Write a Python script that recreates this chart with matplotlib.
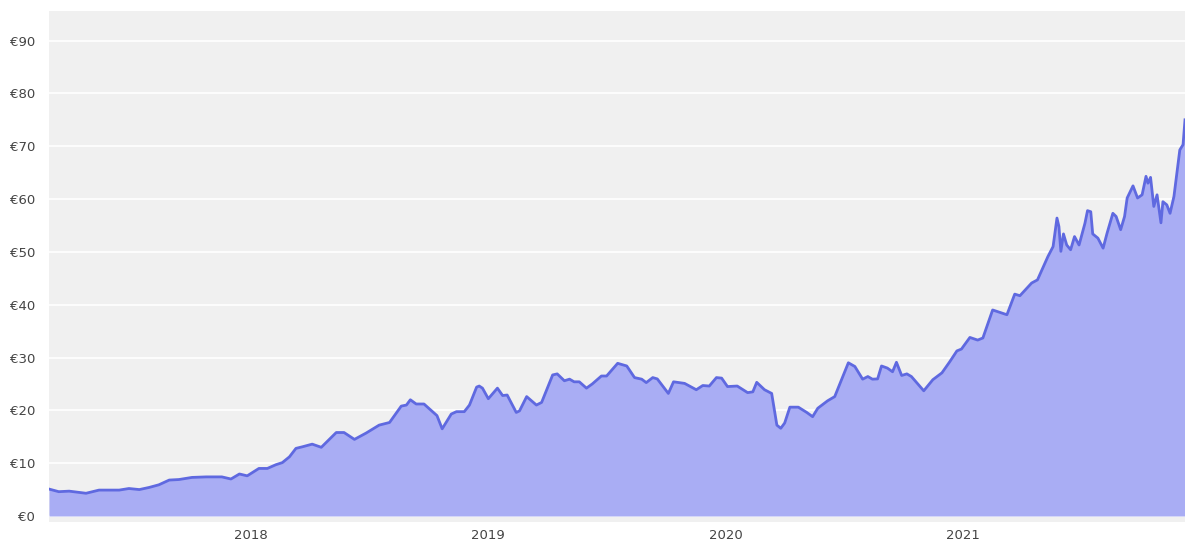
import pandas as pd
import matplotlib
matplotlib.use("Agg")
import matplotlib.pyplot as plt
import matplotlib.dates as mdates
from matplotlib.ticker import FuncFormatter, MultipleLocator

dates = [
    "2017-02-24", "2017-03-11", "2017-03-27", "2017-04-22", "2017-05-12", "2017-06-12",
    "2017-06-27", "2017-07-13", "2017-07-28", "2017-08-12", "2017-08-28", "2017-09-12",
    "2017-10-02", "2017-10-24", "2017-11-17", "2017-12-01", "2017-12-14", "2017-12-26",
    "2018-01-13", "2018-01-26", "2018-02-08", "2018-02-18", "2018-03-01", "2018-03-11",
    "2018-03-21", "2018-04-05", "2018-04-19", "2018-05-12", "2018-05-24", "2018-06-09",
    "2018-06-27", "2018-07-17", "2018-08-02", "2018-08-20", "2018-08-28", "2018-09-03",
    "2018-09-12", "2018-09-24", "2018-10-10", "2018-10-14", "2018-10-22", "2018-11-05",
    "2018-11-13", "2018-11-25", "2018-12-03", "2018-12-14", "2018-12-18", "2018-12-23",
    "2019-01-01", "2019-01-15", "2019-01-23", "2019-01-30", "2019-02-13", "2019-02-18",
    "2019-03-01", "2019-03-16", "2019-03-24", "2019-04-10", "2019-04-17", "2019-04-28",
    "2019-05-06", "2019-05-13", "2019-05-21", "2019-06-01", "2019-06-10", "2019-06-24",
    "2019-07-02", "2019-07-19", "2019-08-02", "2019-08-14", "2019-08-25", "2019-09-01",
    "2019-09-11", "2019-09-18", "2019-10-05", "2019-10-13", "2019-10-30", "2019-11-17",
    "2019-11-27", "2019-12-07", "2019-12-18", "2019-12-26", "2020-01-04", "2020-01-19",
    "2020-02-04", "2020-02-12", "2020-02-18", "2020-03-01", "2020-03-12", "2020-03-20",
    "2020-03-26", "2020-04-01", "2020-04-09", "2020-04-22", "2020-05-05", "2020-05-14",
    "2020-05-22", "2020-06-06", "2020-06-17", "2020-07-08", "2020-07-18", "2020-07-30",
    "2020-08-07", "2020-08-14", "2020-08-22", "2020-08-28", "2020-09-06", "2020-09-14",
    "2020-09-20", "2020-09-28", "2020-10-06", "2020-10-13", "2020-11-01", "2020-11-15",
    "2020-11-29", "2020-12-11", "2020-12-22", "2020-12-29", "2021-01-11", "2021-01-23",
    "2021-01-31", "2021-02-15", "2021-03-09", "2021-03-21", "2021-03-29", "2021-04-16",
    "2021-04-25", "2021-05-03", "2021-05-11", "2021-05-19", "2021-05-25", "2021-05-28",
    "2021-05-31", "2021-06-04", "2021-06-09", "2021-06-15", "2021-06-21", "2021-06-28",
    "2021-07-07", "2021-07-11", "2021-07-16", "2021-07-19", "2021-07-27", "2021-08-04",
    "2021-08-10", "2021-08-19", "2021-08-24", "2021-08-31", "2021-09-06", "2021-09-10",
    "2021-09-19", "2021-09-26", "2021-10-03", "2021-10-09", "2021-10-12", "2021-10-16",
    "2021-10-21", "2021-10-26", "2021-11-01", "2021-11-04", "2021-11-10", "2021-11-15",
    "2021-11-21", "2021-11-30", "2021-12-05", "2021-12-08",
]
prices = [
    5.1, 4.6, 4.7, 4.3, 4.9, 4.9,
    5.2, 5.0, 5.4, 5.9, 6.8, 6.9,
    7.3, 7.4, 7.4, 7.0, 7.95, 7.6,
    9.0, 9.0, 9.7, 10.1, 11.2, 12.8,
    13.1, 13.6, 13.0, 15.8, 15.8, 14.5,
    15.7, 17.2, 17.7, 20.8, 21.0, 22.0,
    21.2, 21.2, 19.45, 19.0, 16.5, 19.3,
    19.75, 19.75, 21.0, 24.4, 24.6, 24.2,
    22.2, 24.2, 22.8, 22.9, 19.6, 19.9,
    22.6, 21.0, 21.5, 26.7, 26.9, 25.6,
    25.9, 25.4, 25.4, 24.2, 25.0, 26.5,
    26.5, 28.9, 28.4, 26.2, 25.9, 25.25,
    26.2, 25.95, 23.2, 25.4, 25.1, 23.9,
    24.7, 24.6, 26.2, 26.1, 24.5, 24.6,
    23.35, 23.5, 25.3, 23.9, 23.2, 17.2,
    16.6, 17.6, 20.6, 20.6, 19.6, 18.8,
    20.4, 21.8, 22.6, 29.0, 28.3, 25.9,
    26.4, 25.9, 25.95, 28.4, 28.0, 27.3,
    29.1, 26.6, 26.9, 26.4, 23.7, 25.8,
    27.1, 29.2, 31.25, 31.6, 33.8, 33.3,
    33.7, 39.0, 38.1, 42.0, 41.7, 44.1,
    44.7, 46.9, 49.1, 51.0, 56.4, 54.8,
    50.1, 53.4, 51.3, 50.4, 52.9, 51.3,
    55.4, 57.8, 57.6, 53.4, 52.6, 50.7,
    53.5, 57.3, 56.7, 54.2, 56.7, 60.2,
    62.5, 60.2, 60.8, 64.3, 63.0, 64.1,
    58.6, 60.8, 55.5, 59.5, 58.9, 57.3,
    60.5, 69.3, 70.3, 75.0,
]
y_ticks = [0, 10, 20, 30, 40, 50, 60, 70, 80, 90]
x_years = ["2018", "2019", "2020", "2021"]

x = pd.to_datetime(dates)

fig = plt.figure(figsize=(11.85, 5.42), dpi=100)
ax = fig.add_axes([49 / 1185, 1 - 522 / 542, 1 - 49 / 1185, 511 / 542])
ax.set_facecolor("#f0f0f0")

ax.fill_between(x, prices, 0, color="#a9adf4", linewidth=0, zorder=2)
ax.plot(x, prices, color="#5f69e0", linewidth=2, zorder=3)

ax.set_xlim(pd.Timestamp("2017-02-24"), pd.Timestamp("2021-12-08"))
ax.set_ylim(-1.14, 95.6)

ax.set_yticks(y_ticks)
ax.yaxis.set_major_formatter(FuncFormatter(lambda v, p: f"€{v:.0f}"))
ax.set_xticks(pd.to_datetime([y + "-01-01" for y in x_years]))
ax.set_xticklabels(x_years)

ax.grid(axis="y", color="white", linewidth=1.2, zorder=1)
ax.grid(axis="x", visible=False)
ax.set_axisbelow(True)
for s in ax.spines.values():
    s.set_visible(False)
ax.tick_params(axis="both", length=0, labelsize=9.5, colors="#444444")
ax.tick_params(axis="y", pad=10)
ax.tick_params(axis="x", pad=5)

fig.savefig("out.png", dpi=100)
